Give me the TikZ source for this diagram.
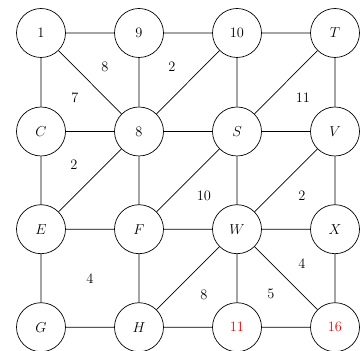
\documentclass[tikz,border=0pt]{standalone}
\begin{document}
\begin{tikzpicture}[x=1pt,y=1pt,
  vtx/.style={circle,draw,line width=0.7pt,minimum size=49pt,inner sep=0pt,font=\fontsize{15}{18}\selectfont},
  red vtx/.style={vtx,text=red},
  wlab/.style={font=\fontsize{15}{18}\selectfont,inner sep=0pt},
  edge/.style={line width=0.7pt}]
\useasboundingbox (0,0) rectangle (363,350);
% rows: y = 350 - ypx
\node[vtx] (n1)  at (41,317) {$1$};
\node[vtx] (n9)  at (139,317) {$9$};
\node[vtx] (n10) at (237,317) {$10$};
\node[vtx] (T)   at (335,317) {$T$};
\node[vtx] (C)   at (41,218.5) {$C$};
\node[vtx] (n8)  at (139,218.5) {$8$};
\node[vtx] (S)   at (237,218.5) {$S$};
\node[vtx] (V)   at (335,218.5) {$V$};
\node[vtx] (E)   at (41,120.8) {$E$};
\node[vtx] (F)   at (139,120.8) {$F$};
\node[vtx] (W)   at (237,120.8) {$W$};
\node[vtx] (X)   at (335,120.8) {$X$};
\node[vtx] (G)   at (41,22.8) {$G$};
\node[vtx] (H)   at (139,22.8) {$H$};
\node[red vtx] (n11) at (237,22.8) {$11$};
\node[red vtx] (n16) at (335,22.8) {$16$};
\draw[edge] (n1)--(n9) (n9)--(n10) (n10)--(T)
  (n1)--(C) (n9)--(n8) (n10)--(S) (T)--(V)
  (n1)--(n8) (n10)--(n8) (T)--(S)
  (C)--(n8) (n8)--(S) (S)--(V)
  (C)--(E) (n8)--(F) (S)--(W) (V)--(X)
  (n8)--(E) (S)--(F) (V)--(W)
  (E)--(F) (F)--(W) (W)--(X)
  (E)--(G) (F)--(H) (W)--(n11) (X)--(n16)
  (W)--(H) (W)--(n16)
  (G)--(H) (H)--(n11) (n11)--(n16);
\node[wlab] (l1) at (105,283) {$8$};
\node[wlab] (l2) at (172,283) {$2$};
\node[wlab] (l3) at (75,252) {$7$};
\node[wlab] (l4) at (303,252) {$11$};
\node[wlab] (l5) at (74,185) {$2$};
\node[wlab] (l6) at (204,154) {$10$};
\node[wlab] (l7) at (302,154) {$2$};
\node[wlab] (l8) at (90,71) {$4$};
\node[wlab] (l9) at (302,86) {$4$};
\node[wlab] (l10) at (204,55) {$8$};
\node[wlab] (l11) at (271,56) {$5$};
\end{tikzpicture}
\end{document}
